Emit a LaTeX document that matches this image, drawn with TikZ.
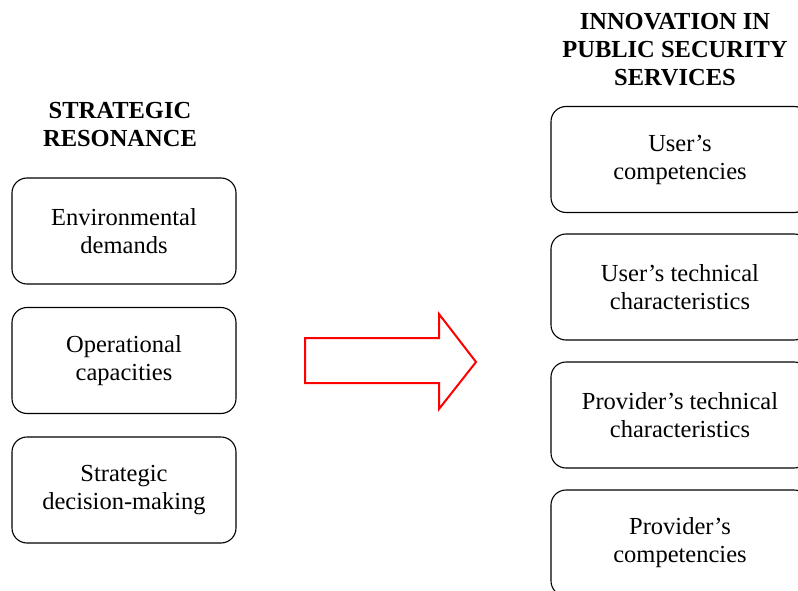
\documentclass[tikz,border=0pt]{standalone}
\usepackage{fontspec}
\setmainfont{Liberation Serif}
\usepackage{xcolor}
\usetikzlibrary{positioning}
\definecolor{ink}{HTML}{000000}
\definecolor{arrowred}{HTML}{FF0000}
\tikzset{
  box/.style={draw=ink, line width=1.1pt, rounded corners=15pt, minimum height=106pt, align=center, font=\fontsize{24.5}{28}\selectfont},
  boxl/.style={box, minimum width=224pt},
  boxr/.style={box, minimum width=258pt},
  title/.style={text=ink, align=center, font=\fontsize{24.5}{28}\selectfont\bfseries},
  bigarrow/.style={draw=arrowred, line width=2pt, line join=miter},
}
\begin{document}
\begin{tikzpicture}[x=1pt,y=-1pt]
  \useasboundingbox (0,0) rectangle (798,591);
  \clip (0,0) rectangle (798,591);
  % left column
  \node[title] (res) at (120,125) {STRATEGIC\\RESONANCE};
  \node[boxl] (env) at (124,231) {Environmental\\demands};
  \node[boxl] (ops) at (124,360.5) {Operational\\capacities};
  \node[boxl] (dec) at (124,490) {Strategic\\decision-making};
  % arrow
  \draw[bigarrow] (305,338) -- (439,338) -- (439,314) -- (476,362)
    -- (439,409) -- (439,383) -- (305,383) -- cycle;
  % right column
  \node[title] (inn) at (675,50) {INNOVATION IN\\PUBLIC SECURITY\\SERVICES};
  \node[boxr] (ucomp) at (680,159.5) {User’s\\competencies};
  \node[boxr] (utech) at (680,287) {User’s technical\\characteristics};
  \node[boxr] (ptech) at (680,415) {Provider’s technical\\characteristics};
  \node[boxr] (pcomp) at (680,543) {Provider’s\\competencies};
\end{tikzpicture}
\end{document}
